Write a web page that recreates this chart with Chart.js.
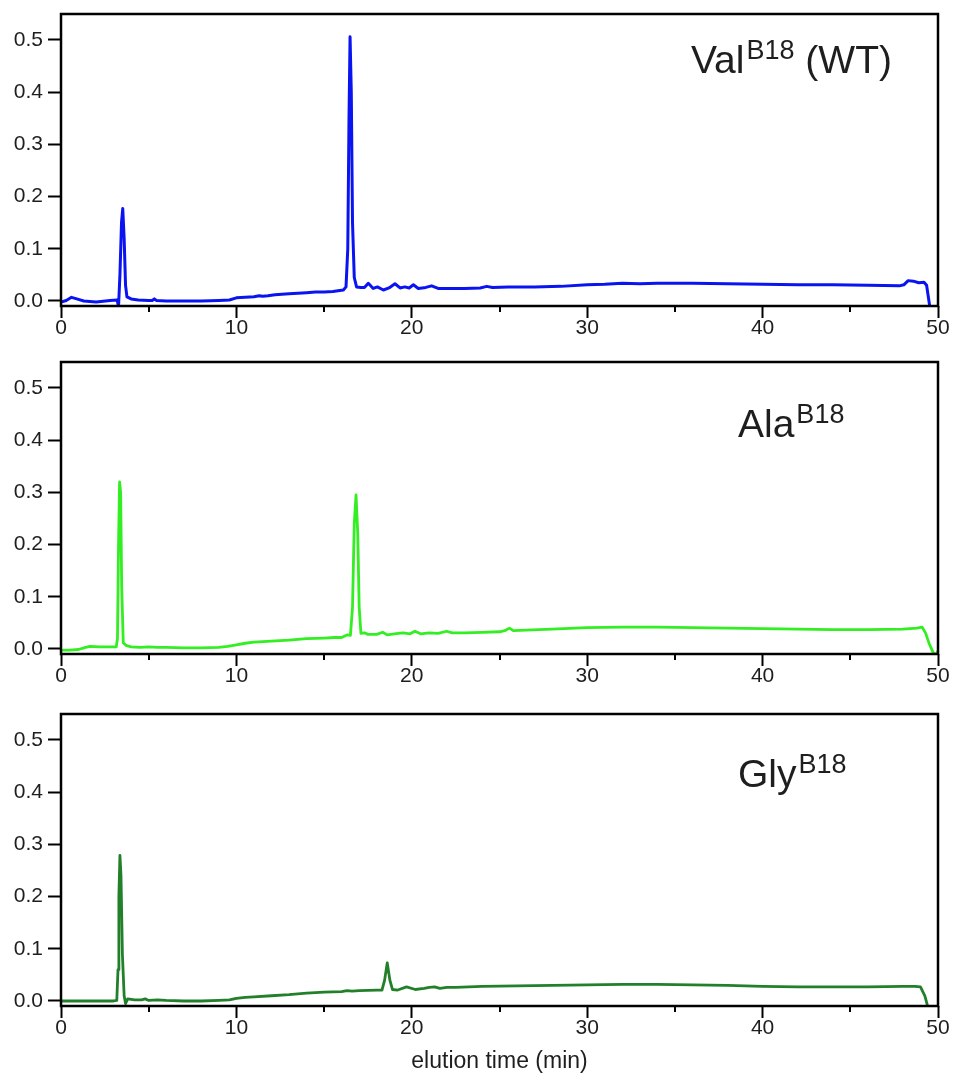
<!DOCTYPE html>
<html>
<head>
<meta charset="utf-8">
<script src="https://cdn.jsdelivr.net/npm/chart.js@4.4.1/dist/chart.umd.min.js"></script>
<style>
  html, body { margin: 0; padding: 0; background: #fff; }
  body { width: 954px; height: 1076px; position: relative; overflow: hidden; }
  .panel { position: absolute; left: 0; width: 954px; }
  canvas { display: block; }
</style>
</head>
<body>
<div class="panel" style="top:0px"><canvas id="val" width="954" height="346"></canvas></div>
<div class="panel" style="top:348px"><canvas id="ala" width="954" height="346"></canvas></div>
<div class="panel" style="top:700px"><canvas id="gly" width="954" height="376"></canvas></div>
<script>
// Axis ticks
const xTicks = [0, 10, 20, 30, 40, 50];
const yTicks = [0.0, 0.1, 0.2, 0.3, 0.4, 0.5];

// Val B18 (wild type) trace: elution time (min) / absorbance
const valTime = [0, 0.3, 0.6, 0.9, 1.3, 2.0, 2.8, 3.2, 3.28, 3.36, 3.45, 3.52, 3.6, 3.68, 3.76, 4.0, 4.4, 5.0, 5.2, 5.32, 5.45,
  6, 7, 8, 9, 9.6, 10, 10.5, 11, 11.3, 11.5, 11.8, 12.2, 12.6, 13, 13.5, 14, 14.5, 15, 15.5, 15.9, 16.1, 16.25, 16.35,
  16.42, 16.48, 16.55, 16.62, 16.72, 16.85, 17.1, 17.3, 17.52, 17.8, 18.04, 18.38, 18.7, 19.04, 19.33, 19.6, 19.85,
  20.09, 20.37, 20.8, 21.13, 21.5, 22, 23, 23.9, 24.27, 24.6, 25.5, 27, 28.5, 30, 31, 32, 33, 34, 36, 38, 40, 42, 44,
  46, 47.8, 48.05, 48.3, 48.6, 48.9, 49.2, 49.35, 49.55];
const valAbs = [-0.002, 0.001, 0.007, 0.004, 0.0, -0.002, 0.001, 0.002, -0.011, 0.05, 0.15, 0.177, 0.12, 0.03, 0.008, 0.004, 0.002, 0.001, 0.001, 0.004, 0.001,
  0.0, 0.0, 0.0, 0.001, 0.002, 0.006, 0.007, 0.008, 0.01, 0.009, 0.01, 0.012, 0.013, 0.014, 0.015, 0.016, 0.017, 0.017, 0.018, 0.02, 0.021, 0.027, 0.1,
  0.35, 0.506, 0.4, 0.15, 0.045, 0.027, 0.026, 0.026, 0.034, 0.024, 0.027, 0.021, 0.025, 0.033, 0.025, 0.027, 0.025,
  0.031, 0.024, 0.026, 0.029, 0.024, 0.024, 0.024, 0.025, 0.028, 0.026, 0.027, 0.027, 0.028, 0.031, 0.032, 0.034, 0.033, 0.034, 0.034, 0.033, 0.032, 0.031, 0.031,
  0.030, 0.029, 0.031, 0.039, 0.038, 0.035, 0.036, 0.03, -0.015];

// Ala B18 trace
const alaTime = [0, 0.5, 1.0, 1.4, 1.65, 2.2, 2.8, 3.15, 3.22, 3.28, 3.34, 3.4, 3.46, 3.55, 3.7, 4.0, 4.5, 5, 5.5, 6, 7, 8, 9, 9.5,
  10, 10.5, 11, 11.5, 12, 13, 14, 15, 15.6, 16.0, 16.3, 16.5, 16.62, 16.72, 16.82, 16.92, 17.0, 17.1, 17.3, 17.5, 17.7, 18.0,
  18.34, 18.6, 19.0, 19.5, 19.9, 20.18, 20.5, 21.0, 21.5, 21.99, 22.3, 23, 24, 25, 25.3, 25.56, 25.8, 26.5, 28, 30, 32, 34,
  36, 38, 40, 42, 44, 46, 48, 48.8, 49.1, 49.3, 49.5, 49.7, 49.85, 50];
const alaAbs = [-0.002, -0.002, -0.001, 0.003, 0.005, 0.004, 0.004, 0.004, 0.02, 0.2, 0.32, 0.3, 0.12, 0.012, 0.007, 0.004, 0.003, 0.004, 0.003, 0.003, 0.002, 0.002, 0.003, 0.005,
  0.008, 0.011, 0.013, 0.014, 0.015, 0.017, 0.02, 0.021, 0.022, 0.022, 0.027, 0.026, 0.08, 0.24, 0.295, 0.22, 0.08, 0.03, 0.031, 0.028, 0.028, 0.028,
  0.032, 0.027, 0.029, 0.031, 0.029, 0.034, 0.029, 0.031, 0.03, 0.034, 0.031, 0.031, 0.032, 0.033, 0.035, 0.04, 0.035, 0.036, 0.038, 0.041, 0.042, 0.042,
  0.041, 0.04, 0.039, 0.038, 0.037, 0.037, 0.038, 0.04, 0.042, 0.03, 0.01, -0.005, -0.012, -0.004];

// Gly B18 trace
const glyTime = [0, 1, 2, 3, 3.18, 3.25, 3.3, 3.36, 3.42, 3.5, 3.6, 3.68, 3.8, 4.2, 4.6, 4.8, 5.0, 5.5, 6, 7, 8, 9, 9.6, 10,
  10.5, 11, 12, 13, 14, 15, 16, 16.3, 16.6, 17, 18, 18.3, 18.45, 18.6, 18.75, 18.9, 19.2, 19.7, 20.2, 20.7, 21, 21.3, 21.6,
  22, 22.5, 24, 26, 28, 30, 32, 34, 36, 38, 40, 42, 44, 46, 48, 48.7, 49.0, 49.25, 49.45];
const glyAbs = [0.0, 0.0, 0.0, 0.0, 0.001, 0.06, 0.2, 0.279, 0.24, 0.09, 0.01, -0.005, 0.004, 0.002, 0.002, 0.004, 0.001, 0.002, 0.001, 0.0, 0.0, 0.001, 0.002, 0.005,
  0.007, 0.008, 0.01, 0.012, 0.015, 0.017, 0.018, 0.02, 0.019, 0.02, 0.021, 0.021, 0.04, 0.073, 0.04, 0.022, 0.021, 0.027, 0.022, 0.024, 0.026, 0.027, 0.024,
  0.026, 0.026, 0.028, 0.029, 0.030, 0.031, 0.032, 0.032, 0.031, 0.030, 0.028, 0.027, 0.027, 0.027, 0.028, 0.028, 0.027, 0.01, -0.015];

const FONT = '"Liberation Sans", Arial, Helvetica, sans-serif';
const INK = '#1e1e1e';

function toPoints(t, a) { return t.map((x, i) => ({ x: x, y: a[i] })); }

// Frame around the plot area plus short minor ticks on the time axis
const framePlugin = {
  id: 'frame',
  afterDraw(chart) {
    const { ctx, chartArea: ca } = chart;
    const xs = chart.scales.x;
    ctx.save();
    ctx.strokeStyle = '#000';
    ctx.lineWidth = 2.5;
    ctx.strokeRect(ca.left, ca.top, ca.right - ca.left, ca.bottom - ca.top);
    ctx.lineWidth = 2;
    for (let v = 5; v < 50; v += 10) {
      const px = Math.round(xs.getPixelForValue(v));
      ctx.beginPath();
      ctx.moveTo(px, ca.bottom);
      ctx.lineTo(px, ca.bottom + 6);
      ctx.stroke();
    }
    ctx.restore();
  }
};

// Sample name with superscript position label
const namePlugin = {
  id: 'sampleName',
  afterDraw(chart, args, opts) {
    const { ctx, chartArea: ca } = chart;
    ctx.save();
    ctx.fillStyle = INK;
    ctx.textBaseline = 'alphabetic';
    ctx.textAlign = 'left';
    let x = opts.x;
    const y = ca.top + opts.dy;
    ctx.font = '39px ' + FONT;
    ctx.fillText(opts.name, x, y);
    x += ctx.measureText(opts.name).width + 2;
    ctx.font = '27px ' + FONT;
    ctx.fillText(opts.sup, x, y - 14);
    x += ctx.measureText(opts.sup).width;
    if (opts.tail) {
      ctx.font = '39px ' + FONT;
      ctx.fillText(opts.tail, x, y);
    }
    ctx.restore();
  }
};

function makePanel(id, time, abs, color, width, label, xHeight, showTitle) {
  new Chart(document.getElementById(id), {
    type: 'line',
    data: {
      datasets: [{
        data: toPoints(time, abs),
        borderColor: color,
        borderWidth: width,
        pointRadius: 0,
        tension: 0,
        fill: false,
        borderJoinStyle: 'round',
        borderCapStyle: 'round'
      }]
    },
    options: {
      responsive: false,
      animation: false,
      devicePixelRatio: 1,
      parsing: false,
      layout: { padding: { top: 14, right: 16, left: 0, bottom: 0 } },
      plugins: {
        legend: { display: false },
        tooltip: { enabled: false },
        sampleName: label
      },
      scales: {
        x: {
          type: 'linear',
          min: 0,
          max: 50,
          afterBuildTicks: s => { s.ticks = xTicks.map(v => ({ value: v })); },
          afterFit: s => { s.height = xHeight; s.paddingLeft = 0; s.paddingRight = 0; },
          border: { display: false },
          grid: { drawOnChartArea: false, drawTicks: true, tickLength: 12, tickWidth: 2, tickColor: '#000' },
          ticks: { color: INK, font: { family: FONT, size: 21 }, padding: -2, maxRotation: 0, autoSkip: false },
          title: {
            display: showTitle,
            text: 'elution time (min)',
            color: INK,
            font: { family: FONT, size: 23 },
            padding: { top: 0, bottom: 1 }
          }
        },
        y: {
          type: 'linear',
          min: -0.0096,
          max: 0.5498,
          afterBuildTicks: s => { s.ticks = yTicks.map(v => ({ value: v })); },
          afterFit: s => { s.width = 61; s.paddingTop = 0; s.paddingBottom = 0; },
          border: { display: false },
          grid: { drawOnChartArea: false, drawTicks: true, tickLength: 13, tickWidth: 2, tickColor: '#000' },
          ticks: { color: INK, font: { family: FONT, size: 21 }, padding: 5, callback: v => v.toFixed(1) }
        }
      }
    },
    plugins: [framePlugin, namePlugin]
  });
}

makePanel('val', valTime, valAbs, '#0a14f0', 3, { name: 'Val', sup: 'B18', tail: ' (WT)', x: 691, dy: 59 }, 40, false);
makePanel('ala', alaTime, alaAbs, '#33ee22', 2.8, { name: 'Ala', sup: 'B18', x: 738, dy: 75 }, 40, false);
makePanel('gly', glyTime, glyAbs, '#22802a', 2.8, { name: 'Gly', sup: 'B18', x: 738, dy: 73 }, 70, true);
</script>
</body>
</html>
